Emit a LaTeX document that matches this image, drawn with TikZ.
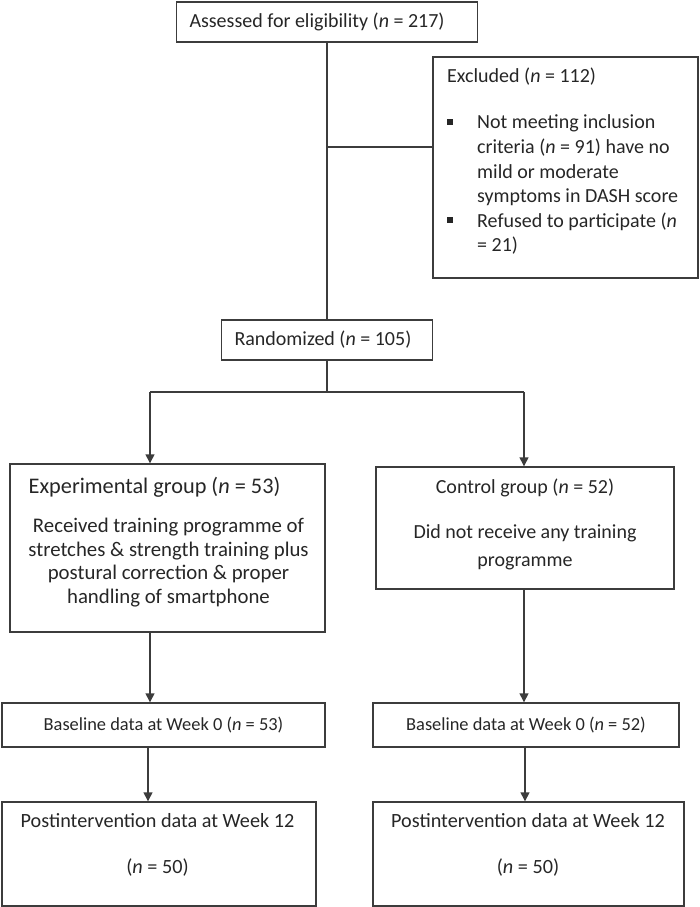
\documentclass[tikz,border=0pt]{standalone}
\usepackage{fontspec}
\setmainfont{Carlito}
\usetikzlibrary{arrows.meta}
\definecolor{linec}{HTML}{3C3C3C}
\definecolor{textc}{HTML}{262626}
\newcommand{\exbullet}{\makebox[30pt][l]{\rule[4pt]{6pt}{6pt}}}
\begin{document}
\begin{tikzpicture}[x=1pt,y=-1pt,
  box/.style={draw=linec, line width=1.4pt, inner sep=0pt, text=textc},
  txt/.style={text=textc, inner sep=0pt, align=center},
  mainfont/.style={font=\fontsize{20}{24.6}\selectfont},
  con/.style={draw=linec, line width=1.4pt},
  arr/.style={draw=linec, line width=1.4pt, -{Triangle[length=9pt,width=9pt]}}]
\useasboundingbox (0,0) rectangle (699,907);

% boxes
\node[box, mainfont, minimum width=301pt, minimum height=40pt, text width=275pt, inner xsep=13pt, align=flush left] (assess) at (327,22) {Assessed for eligibility (\textit{n} = 217)};
\node[box, minimum width=265pt, minimum height=221pt] (exclbox) at (565.5,167.5) {};
\node[txt, mainfont, anchor=west, align=left] (excltext) at (447,161.5) {Excluded (\textit{n} = 112)\\[21.4pt]
\exbullet Not meeting inclusion\\
\hspace*{30pt}criteria (\textit{n} = 91) have no\\
\hspace*{30pt}mild or moderate\\
\hspace*{30pt}symptoms in DASH score\\
\exbullet Refused to participate (\textit{n}\\
\hspace*{30pt}= 21)};

\node[box, mainfont, minimum width=211pt, minimum height=40pt, text width=185pt, inner xsep=13pt, align=flush left] (rand) at (327,340) {Randomized (\textit{n} = 105)};

\node[box, minimum width=315pt, minimum height=168pt] (exp) at (167.5,548) {};
\node[txt, font=\fontsize{20.8}{23.7}\selectfont] (exptext) at (168.5,542) {{\fontsize{22.3}{23.7}\selectfont Experimental group (\textit{n} = 53)}\hspace*{28pt}\\[15.3pt]
Received training programme of\\
stretches \& strength training plus\\
postural correction \& proper\\
handling of smartphone};

\node[box, minimum width=298pt, minimum height=122pt] (ctrl) at (525,528) {};
\node[txt, font=\fontsize{20}{28}\selectfont] (ctrltext) at (525,524.5) {Control group (\textit{n} = 52)\\[17pt]
Did not receive any training\\
programme};

\node[box, font=\fontsize{18.4}{22}\selectfont, minimum width=323pt, minimum height=44pt] (base1) at (163.5,725) {Baseline data at Week 0 (\textit{n} = 53)};
\node[box, font=\fontsize{18.4}{22}\selectfont, minimum width=306pt, minimum height=44pt] (base2) at (526,725) {Baseline data at Week 0 (\textit{n} = 52)};

\node[box, minimum width=314pt, minimum height=104pt] (post1) at (159,854) {};
\node[txt, font=\fontsize{20.2}{24.6}\selectfont] (post1text) at (157.5,845) {Postintervention data at Week 12\\[21.4pt](\textit{n} = 50)};
\node[box, minimum width=311pt, minimum height=104pt] (post2) at (528.5,854) {};
\node[txt, font=\fontsize{20.2}{24.6}\selectfont] (post2text) at (528,845) {Postintervention data at Week 12\\[21.4pt](\textit{n} = 50)};

% connectors
\coordinate (exj) at (327,147);
\coordinate (split) at (327,392);
\coordinate (sl) at (150,392);
\coordinate (sr) at (524,392);
\draw[con] (assess.south) -- (rand.north);
\draw[con] (exj) -- (exj -| exclbox.west);
\draw[con] (rand.south) -- (split);
\draw[con] (sl) -- (sr);
\draw[arr] (sl) -- (sl |- exp.north);
\draw[arr] (sr) -- (sr |- ctrl.north);
\draw[arr] (exp.south -| sl) -- (base1.north -| sl);
\draw[arr] (ctrl.south -| sr) -- (base2.north -| sr);
\draw[arr] ([xshift=-2pt]base1.south -| sl) -- ([xshift=-2pt]post1.north -| sl);
\draw[arr] ([xshift=1pt]base2.south -| sr) -- ([xshift=1pt]post2.north -| sr);
\end{tikzpicture}
\end{document}
